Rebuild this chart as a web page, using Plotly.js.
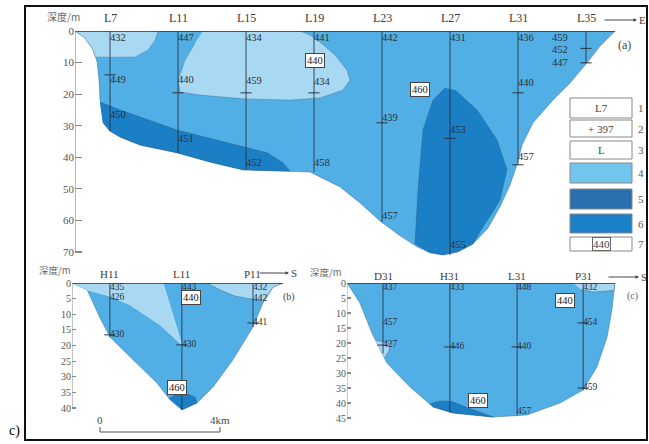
<!DOCTYPE html>
<html><head><meta charset="utf-8">
<script src="https://cdn.plot.ly/plotly-3.0.1.min.js"></script>
<style>html,body{margin:0;padding:0;background:#fff}#plot{width:649px;height:444px}</style>
</head><body><div id="plot"></div>
<script>
// ---------- Panel (a): section along L7..L35 (x = station number, y = depth m) ----------
const aStations = ['L7','L11','L15','L19','L23','L27','L31','L35'];
const aStationX = [7,11,15,19,23,27,31,35];
const aStationBottom = [31.7,38.6,44.0,44.7,60.5,71.0,42.4,10.1];
const aOutlineX = [4.94,5.53,6.0,6.24,6.35,6.41,6.59,7.0,7.59,8.76,10.94,12.88,14.82,17.0,18.76,20.53,21.71,22.88,24.06,25.06,25.82,26.59,27.47,28.35,29.24,29.94,30.53,30.94,31.24,31.88,33.06,34.06,35.06,35.82,36.71];
const aOutlineY = [0,2.2,6.0,9.8,15.5,21.9,29.1,31.7,33.6,36.1,38.6,41.5,44.0,44.3,44.7,49.4,54.5,60.2,64.9,68.4,70.3,71.0,70.0,67.5,62.4,55.7,48.8,42.4,36.1,29.1,21.9,16.5,10.1,4.8,0];
const aLight1X = [4.94,5.53,6.0,6.15,7.0,8.47,9.24,9.65,9.82];
const aLight1Y = [0,2.2,6.0,8.2,8.3,8.2,6.0,2.9,0];
const aLight2X = [12.47,18.18,18.76,19.35,20.24,20.94,21.12,20.71,19.35,17.59,14.82,12.29,11.12,11.0,11.41,12.0];
const aLight2Y = [0,0,1.3,3.5,7.6,12.4,15.5,18.7,21.2,21.9,21.5,20.3,19.3,15.5,9.2,3.8];
const aDark1X = [6.41,7.59,10.94,14.82,16.24,17.18,17.59,17.0,14.82,12.88,10.94,8.76,7.59,7.0,6.59];
const aDark1Y = [22.5,25.0,31.4,36.7,38.6,41.8,44.4,44.3,44.0,41.5,38.6,36.1,33.6,31.7,29.1];
const aDark2X = [26.71,26.0,25.41,25.12,24.94,25.82,26.59,27.47,28.35,28.94,29.5,29.94,30.35,29.76,28.59,27.29];
const aDark2Y = [18.1,21.9,31.4,50.4,67.4,70.2,70.9,69.9,67.4,62.0,57.5,53.5,44.0,34.5,25.0,18.7];
const aLabelX = [7,7,7,11,11,11,15,15,15,19,19,19,23,23,23,27,27,27,31,31,31,33.0,33.0,33.0];
const aLabelY = [2.2,15.5,26.6,2.2,15.5,34.5,2.2,16.0,41.8,2.2,16.2,41.8,2.2,27.6,58.6,2.2,31.4,67.8,2.2,16.5,39.9,2.2,6.0,10.4];
const aLabelText = ['432','449','450','447','440','451','434','459','452','441','434','458','442','439','457','431','453','455','436','440','457','459','452','447'];
const aTickX = [7,11,15,19,23,27,31,31,35,35];
const aTickY = [13.9,19.6,19.6,19.6,29.1,34.0,19.6,42.4,5.5,10.1];
const aBoxText = ['440','460'];
const aBoxX = [19.06,25.24];
const aBoxY = [9.5,18.4];
const aDepthTicks = [0,10,20,30,40,50,60,70];

// ---------- Panel (b): x = distance km ----------
const bStations = ['H11','L11','P11'];
const bStationX = [0.33,2.73,5.1];
const bStationBottom = [17.3,40.6,14.1];
const bOutlineX = [-0.93,-0.43,0,0.33,1.1,1.9,2.33,2.73,3.23,3.77,4.43,5.1,5.43,5.77,6.1];
const bOutlineY = [0,2.2,11.2,17.3,24.6,32.0,37.4,40.6,38.4,33.3,24.6,14.1,6.4,1.3,0];
const bLight1X = [-0.93,2.1,2.73,2.0,1.0,0.33,-0.43];
const bLight1Y = [0,0,19.8,13.4,7.0,4.2,2.2];
const bLight2X = [3.57,4.0,4.5,5.17,5.45,5.77,6.1];
const bLight2Y = [0,2.2,4.2,5.4,5.8,1.3,0];
const bDarkX = [2.3,2.5,2.83,3.17,3.23,2.73];
const bDarkY = [37.0,35.8,35.2,36.5,38.4,40.6];
const bLabelX = [0.33,0.33,0.33,2.73,2.73,5.1,5.1,5.1];
const bLabelY = [1.6,4.8,16.6,1.6,19.8,1.6,5.0,12.8];
const bLabelText = ['435','426','430','443','430','432','442','441'];
const bTickX = [0.33,2.73,5.1];
const bTickY = [16.6,19.8,12.8];
const bBoxText = ['440','460'];
const bBoxX = [3.03,2.57];
const bBoxY = [4.5,33.3];
const bDepthTicks = [0,5,10,15,20,25,30,35,40];
const scaleKm = [0,4];
const scaleLabels = ['0','4km'];

// ---------- Panel (c): x = distance km ----------
const cStations = ['D31','H31','L31','P31'];
const cStationX = [1.2,3.43,5.67,7.87];
const cStationBottom = [23.5,43.2,44.2,35.7];
const cOutlineX = [0,0.43,0.83,1.33,2.1,2.87,3.53,4.87,6.0,7.1,7.87,8.33,8.67,8.83,8.93];
const cOutlineY = [0,6.7,16.7,26.7,34.7,41.3,43.3,44.7,44.0,40.0,35.7,28.0,18.0,9.0,0];
const cLight1X = [0.95,1.45,1.4,1.25];
const cLight1Y = [19.0,20.3,22.5,25.0];
const cLight2X = [7.53,8.93,8.9,8.2,7.8];
const cLight2Y = [0,0,2.5,3.0,2.2];
const cDarkX = [2.75,3.1,3.5,4.0,4.8,4.87,3.53,2.87];
const cDarkY = [40.3,39.3,39.5,41.5,44.4,44.7,43.3,41.3];
const cLabelX = [1.2,1.2,1.2,3.43,3.43,5.67,5.67,5.67,7.87,7.87,7.87];
const cLabelY = [1.7,13.3,20.7,1.7,21.3,1.7,21.3,43.0,1.7,13.3,35.0];
const cLabelText = ['437','457','427','433','446','448','440','457','432','454','459'];
const cTickX = [1.2,3.43,5.67,7.87,7.87];
const cTickY = [20.7,21.3,21.3,13.3,35.0];
const cBoxText = ['440','460'];
const cBoxX = [7.27,4.37];
const cBoxY = [5.67,39.0];
const cDepthTicks = [0,5,10,15,20,25,30,35,40,45];

// ---------- legend ----------
const legendNums = ['1','2','3','4','5','6','7'];
const legendText = ['L7','+ 397','L','','','','440'];

// ---------- styles ----------
const W = 649, H = 444;
const C_WATER = '#52afe5', C_LIGHT = '#a8d8f2', C_DARK = '#1b7fc5';
const C_LEG4 = '#72c6ee', C_LEG5 = '#2a6fae', C_LEG6 = '#1a80c8';
const SERIF = 'Liberation Serif, Times New Roman, serif';
const CJK = 'Noto Sans CJK SC, sans-serif';
const px = v => v / W, py = v => 1 - v / H;

const traces = [];
function poly(x, y, color, xa, ya, lc) {
  traces.push({x, y, xaxis: xa, yaxis: ya, type: 'scatter', mode: 'lines', fill: 'toself',
    fillcolor: color, line: {color: lc || 'rgba(40,80,120,0.55)', width: 0.7}, hoverinfo: 'skip', showlegend: false});
}
function stations(xs, bottoms, xa, ya) {
  xs.forEach((s, i) => traces.push({x: [s, s], y: [0, bottoms[i]], xaxis: xa, yaxis: ya, type: 'scatter', mode: 'lines',
    line: {color: '#2b3440', width: 0.9}, hoverinfo: 'skip', showlegend: false}));
}
function surface(x0, x1, xa, ya) {
  traces.push({x: [x0, x1], y: [0, 0], xaxis: xa, yaxis: ya, type: 'scatter', mode: 'lines',
    line: {color: '#333', width: 1.6}, hoverinfo: 'skip', showlegend: false});
}
function labels(x, y, t, xa, ya, size) {
  traces.push({x, y, text: t, xaxis: xa, yaxis: ya, type: 'scatter', mode: 'text', textposition: 'middle right',
    textfont: {family: SERIF, size: size || 10, color: '#2a3038'}, hoverinfo: 'skip', showlegend: false});
}
function ticks(x, y, xa, ya) {
  traces.push({x, y, xaxis: xa, yaxis: ya, type: 'scatter', mode: 'markers',
    marker: {symbol: 'line-ew', size: 8, line: {color: '#2b3440', width: 1}}, hoverinfo: 'skip', showlegend: false});
}

// panel a
poly(aOutlineX, aOutlineY, C_WATER, 'x', 'y');
poly(aLight1X, aLight1Y, C_LIGHT, 'x', 'y', 'rgba(40,80,120,0.35)');
poly(aLight2X, aLight2Y, C_LIGHT, 'x', 'y', 'rgba(40,80,120,0.45)');
poly(aDark1X, aDark1Y, C_DARK, 'x', 'y');
poly(aDark2X, aDark2Y, C_DARK, 'x', 'y');
stations(aStationX, aStationBottom, 'x', 'y');
surface(aOutlineX[0], aOutlineX[aOutlineX.length - 1], 'x', 'y');
ticks(aTickX, aTickY, 'x', 'y');
labels(aLabelX, aLabelY, aLabelText, 'x', 'y', 10.5);
// panel b
poly(bOutlineX, bOutlineY, C_WATER, 'x2', 'y2');
poly(bLight1X, bLight1Y, C_LIGHT, 'x2', 'y2', 'rgba(255,255,255,0.6)');
poly(bLight2X, bLight2Y, C_LIGHT, 'x2', 'y2', 'rgba(40,80,120,0.45)');
poly(bDarkX, bDarkY, C_DARK, 'x2', 'y2');
stations(bStationX, bStationBottom, 'x2', 'y2');
surface(bOutlineX[0], bOutlineX[bOutlineX.length - 1], 'x2', 'y2');
ticks(bTickX, bTickY, 'x2', 'y2');
labels(bLabelX, bLabelY, bLabelText, 'x2', 'y2', 9.5);
// panel c
poly(cOutlineX, cOutlineY, C_WATER, 'x3', 'y3');
poly(cLight1X, cLight1Y, C_LIGHT, 'x3', 'y3');
poly(cLight2X, cLight2Y, C_LIGHT, 'x3', 'y3');
poly(cDarkX, cDarkY, C_DARK, 'x3', 'y3');
stations(cStationX, cStationBottom, 'x3', 'y3');
surface(cOutlineX[0], cOutlineX[cOutlineX.length - 1], 'x3', 'y3');
ticks(cTickX, cTickY, 'x3', 'y3');
labels(cLabelX, cLabelY, cLabelText, 'x3', 'y3', 9.5);

const annotations = [];
const shapes = [];
const hdrFont = {family: SERIF, size: 12, color: '#3a3a3a'};
aStations.forEach((s, i) => annotations.push({xref: 'x', yref: 'paper', x: aStationX[i], y: py(18), text: s, showarrow: false, font: hdrFont}));
bStations.forEach((s, i) => annotations.push({xref: 'x2', yref: 'paper', x: bStationX[i], y: py(274), text: s, showarrow: false, font: {family: SERIF, size: 11, color: '#3a3a3a'}}));
cStations.forEach((s, i) => annotations.push({xref: 'x3', yref: 'paper', x: cStationX[i], y: py(276), text: s, showarrow: false, font: {family: SERIF, size: 11, color: '#3a3a3a'}}));

function boxes(t, x, y, xa, ya) {
  t.forEach((s, i) => annotations.push({xref: xa, yref: ya, x: x[i], y: y[i], text: s, showarrow: false,
    font: {family: SERIF, size: 10.5, color: '#222'}, bgcolor: '#fff', bordercolor: '#444', borderwidth: 1, borderpad: 1}));
}
boxes(aBoxText, aBoxX, aBoxY, 'x', 'y');
boxes(bBoxText, bBoxX, bBoxY, 'x2', 'y2');
boxes(cBoxText, cBoxX, cBoxY, 'x3', 'y3');

// axis title labels
annotations.push({xref: 'paper', yref: 'paper', x: px(63), y: py(17), text: '深度/m', showarrow: false, font: {family: CJK, size: 10, color: '#666'}});
annotations.push({xref: 'paper', yref: 'paper', x: px(55), y: py(270), text: '深度/m', showarrow: false, font: {family: CJK, size: 9.5, color: '#666'}});
annotations.push({xref: 'paper', yref: 'paper', x: px(326), y: py(272), text: '深度/m', showarrow: false, font: {family: CJK, size: 9.5, color: '#666'}});
// panel tags
annotations.push({xref: 'paper', yref: 'paper', x: px(624), y: py(45), text: '(a)', showarrow: false, font: {family: SERIF, size: 12, color: '#444'}});
annotations.push({xref: 'paper', yref: 'paper', x: px(289), y: py(297), text: '(b)', showarrow: false, font: {family: SERIF, size: 10, color: '#444'}});
annotations.push({xref: 'paper', yref: 'paper', x: px(632), y: py(296), text: '(c)', showarrow: false, font: {family: SERIF, size: 10, color: '#666'}});
annotations.push({xref: 'paper', yref: 'paper', x: px(14), y: py(431), text: 'c)', showarrow: false, font: {family: SERIF, size: 14, color: '#000'}});
// direction arrows
[[603, 637, 20, 'E', 642], [258, 289, 273, 'S', 294], [607, 639, 277, 'S', 644]].forEach(a => {
  annotations.push({xref: 'paper', yref: 'paper', x: px(a[1]), y: py(a[2]), ax: px(a[0]), ay: py(a[2]), axref: 'paper', ayref: 'paper',
    text: '', showarrow: true, arrowhead: 2, arrowsize: 0.7, arrowwidth: 1, arrowcolor: '#444'});
  annotations.push({xref: 'paper', yref: 'paper', x: px(a[4]), y: py(a[2]), text: a[3], showarrow: false, font: {family: SERIF, size: 11, color: '#444'}});
});
// scale bar (b)
shapes.push({type: 'path', xref: 'x2', yref: 'paper',
  path: `M ${scaleKm[0]},${py(427)} L ${scaleKm[0]},${py(432)} L ${scaleKm[1]},${py(432)} L ${scaleKm[1]},${py(427)}`,
  line: {color: '#555', width: 1}});
scaleLabels.forEach((s, i) => annotations.push({xref: 'x2', yref: 'paper', x: scaleKm[i], y: py(420), text: s, showarrow: false, font: {family: SERIF, size: 11, color: '#444'}}));
// y axis lines
shapes.push({type: 'line', xref: 'x', yref: 'y', x0: aOutlineX[0], x1: aOutlineX[0], y0: 0, y1: aDepthTicks[aDepthTicks.length - 1], line: {color: '#888', width: 1.2}});
shapes.push({type: 'line', xref: 'x2', yref: 'y2', x0: bOutlineX[0], x1: bOutlineX[0], y0: 0, y1: bDepthTicks[bDepthTicks.length - 1], line: {color: '#999', width: 1}});
shapes.push({type: 'line', xref: 'x3', yref: 'y3', x0: cOutlineX[0], x1: cOutlineX[0], y0: 0, y1: cDepthTicks[cDepthTicks.length - 1], line: {color: '#999', width: 1}});
// legend
const legRows = [[98,118],[120,137],[141,159],[163,183],[189,209],[214,233],[237,251]];
const legFill = ['#fff','#fff','#fff',C_LEG4,C_LEG5,C_LEG6,'#fff'];
legRows.forEach((r, i) => {
  shapes.push({type: 'rect', xref: 'paper', yref: 'paper', x0: px(570), x1: px(632), y0: py(r[1]), y1: py(r[0]), fillcolor: legFill[i], line: {color: '#888', width: 1}});
  annotations.push({xref: 'paper', yref: 'paper', x: px(641), y: py((r[0] + r[1]) / 2), text: legendNums[i], showarrow: false, font: {family: SERIF, size: 11, color: '#555'}});
  if (legendText[i]) annotations.push({xref: 'paper', yref: 'paper', x: px(601), y: py((r[0] + r[1]) / 2), text: legendText[i], showarrow: false,
    font: {family: SERIF, size: 11, color: '#444'}, bordercolor: i === 6 ? '#666' : 'rgba(0,0,0,0)', borderwidth: i === 6 ? 1 : 0, borderpad: 0});
});
// outer frame
shapes.push({type: 'rect', xref: 'paper', yref: 'paper', x0: px(25), x1: px(647), y0: py(440), y1: py(6), line: {color: '#111', width: 2}});

annotations.forEach(a => { if (!a.showarrow) { a.xanchor = 'center'; a.yanchor = 'middle'; } });

const yAxisBase = {showgrid: false, zeroline: false, showline: false, ticks: 'inside', ticklen: 7, tickwidth: 1.2, tickcolor: '#888',
  tickfont: {family: SERIF, size: 11, color: '#555'}, fixedrange: true};
const xHidden = {visible: false, showgrid: false, zeroline: false, fixedrange: true};
const layout = {
  width: W, height: H, margin: {l: 0, r: 0, t: 0, b: 0}, paper_bgcolor: '#fff', plot_bgcolor: 'rgba(0,0,0,0)', showlegend: false,
  xaxis: Object.assign({}, xHidden, {domain: [px(75), px(645)], range: [4.94, 38.47], anchor: 'y'}),
  yaxis: Object.assign({}, yAxisBase, {domain: [py(262), py(31)], range: [73.2, 0], tickvals: aDepthTicks, anchor: 'x'}),
  xaxis2: Object.assign({}, xHidden, {domain: [px(72), px(300)], range: [-0.933, 6.667], anchor: 'y2'}),
  yaxis2: Object.assign({}, yAxisBase, {domain: [py(440), py(283)], range: [50.24, 0], tickvals: bDepthTicks, ticklen: 4, tickfont: {family: SERIF, size: 10, color: '#555'}, anchor: 'x2'}),
  xaxis3: Object.assign({}, xHidden, {domain: [px(347), px(645)], range: [0, 9.933], anchor: 'y3'}),
  yaxis3: Object.assign({}, yAxisBase, {domain: [py(440), py(283)], range: [52.33, 0], tickvals: cDepthTicks, ticklen: 4, tickfont: {family: SERIF, size: 10, color: '#555'}, anchor: 'x3'}),
  annotations, shapes
};
Plotly.newPlot('plot', traces, layout, {staticPlot: true, displayModeBar: false});
</script></body></html>
